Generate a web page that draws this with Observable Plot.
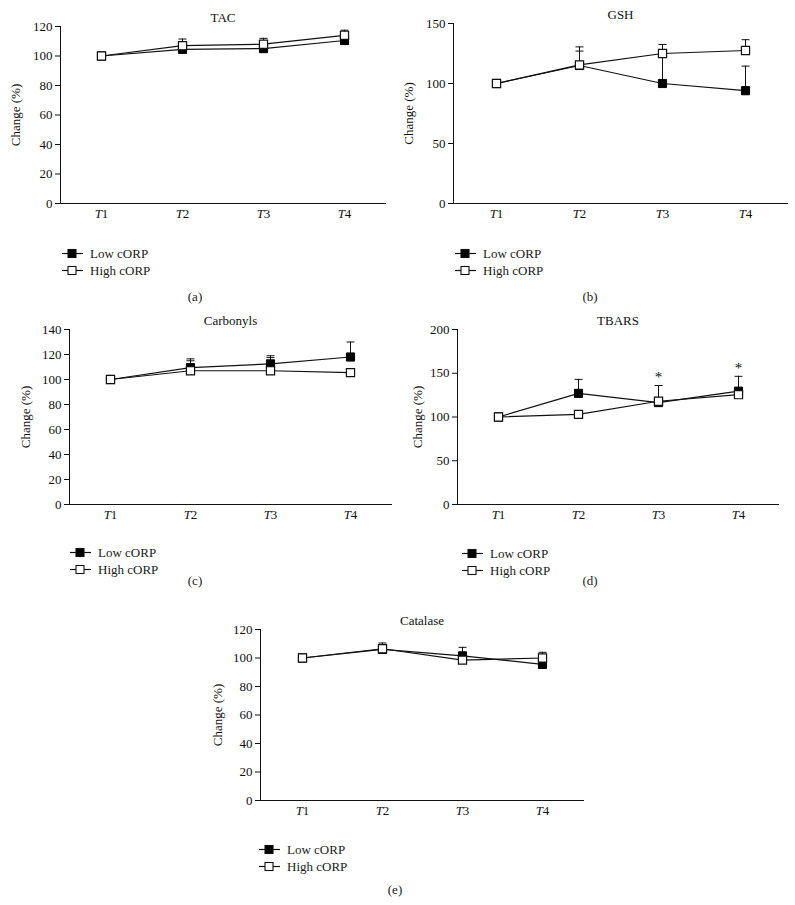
<!DOCTYPE html>
<html>
<head>
<meta charset="utf-8">
<script src="https://cdn.jsdelivr.net/npm/d3@7"></script>
<script src="https://cdn.jsdelivr.net/npm/@observablehq/plot@0.6"></script>
<style>
  body { margin: 0; background: #fff; }
  #root { position: relative; width: 795px; height: 905px; font-family: "Liberation Serif", "DejaVu Serif", serif; color: #1a1a1a; }
  .abs { position: absolute; }
  .cap { position: absolute; font-size: 13px; line-height: 1; transform: translate(-50%, -50%); white-space: nowrap; }
  .leg { position: absolute; font-size: 13px; line-height: 17px; }
  .leg div { display: flex; align-items: center; height: 17px; }
  .leg svg { margin-right: 7px; }
</style>
</head>
<body>
<div id="root"></div>
<script>
// ---------- data ----------
const times = ["T1", "T2", "T3", "T4"];
const seriesNames = ["Low cORP", "High cORP"];

// TAC
const tacLow = [100, 104.5, 105, 110.5];
const tacLowUp = [null, null, null, null];
const tacHigh = [100, 107, 108, 114];
const tacHighUp = [null, 111.5, 112, 117.5];
const tacTicks = [0, 20, 40, 60, 80, 100, 120];

// GSH
const gshLow = [100, 115, 100, 94];
const gshLowUp = [null, 130.5, 124, 114.5];
const gshHigh = [100, 115.5, 125, 127.5];
const gshHighUp = [null, 127, 132.5, 136.5];
const gshTicks = [0, 50, 100, 150];

// Carbonyls
const carLow = [100, 109.5, 112.5, 118];
const carLowUp = [null, 116.5, 119, 130];
const carHigh = [100, 107, 107, 105.5];
const carHighUp = [null, 115, 117.5, null];
const carTicks = [0, 20, 40, 60, 80, 100, 120, 140];

// TBARS
const tbLow = [100, 127, 116.5, 129.5];
const tbLowUp = [null, 143, null, 146.5];
const tbHigh = [100, 103, 118, 125.5];
const tbHighUp = [null, null, 136, null];
const tbTicks = [0, 50, 100, 150, 200];
const tbStars = ["T3", "T4"];

// Catalase
const catLow = [100, 106, 101.5, 95.5];
const catLowUp = [null, null, 107.5, null];
const catHigh = [100, 106.5, 98.5, 100];
const catHighUp = [null, 110.5, null, 104];
const catTicks = [0, 20, 40, 60, 80, 100, 120];

// ---------- drawing ----------
const root = document.getElementById("root");
const INK = "#111";
const capSymbol = {
  draw(ctx, size) {
    const r = Math.sqrt(size / Math.PI);
    ctx.moveTo(-r, 0);
    ctx.lineTo(r, 0);
  }
};

function italicT(svg) {
  const ns = "http://www.w3.org/2000/svg";
  d3.select(svg).selectAll("text").each(function () {
    const m = /^T(\d)$/.exec(this.textContent.trim());
    if (!m) return;
    while (this.firstChild) this.removeChild(this.firstChild);
    const t = document.createElementNS(ns, "tspan");
    t.setAttribute("font-style", "italic");
    t.textContent = "T";
    this.appendChild(t);
    this.appendChild(document.createTextNode(m[1]));
  });
}

function panel(cfg) {
  const rows = [];
  times.forEach((t, i) => {
    rows.push({t, g: "Low", v: cfg.low[i], up: cfg.lowUp[i]});
  });
  times.forEach((t, i) => {
    rows.push({t, g: "High", v: cfg.high[i], up: cfg.highUp[i]});
  });
  const errRows = rows.filter(d => d.up != null);
  const lowRows = rows.filter(d => d.g === "Low");
  const highRows = rows.filter(d => d.g === "High");
  const starRows = (cfg.stars || []).map(t => {
    const ups = rows.filter(d => d.t === t).map(d => d.up ?? d.v);
    return {t, y: Math.max(...ups)};
  });
  const ymax = cfg.ticks[cfg.ticks.length - 1];

  const svg = Plot.plot({
    width: cfg.width,
    height: cfg.height,
    marginLeft: cfg.ml,
    marginRight: cfg.mr,
    marginTop: cfg.mt,
    marginBottom: cfg.mb,
    style: {fontFamily: '"Liberation Serif", "DejaVu Serif", serif', fontSize: "13px", color: INK, background: "transparent", overflow: "visible"},
    x: {type: "point", domain: times, padding: 0.5, label: null, tickSize: 0, tickPadding: 5, line: true},
    y: {domain: [0, ymax], ticks: cfg.ticks, tickSize: 5, tickPadding: 3, line: true,
        label: "Change (%)", labelArrow: "none", labelAnchor: "center", labelOffset: cfg.labelOffset, tickFormat: d => String(d)},
    marks: [
      Plot.ruleX(errRows, {x: "t", y1: "v", y2: "up", stroke: INK, strokeWidth: 1}),
      Plot.dot(errRows, {x: "t", y: "up", symbol: capSymbol, r: 4, stroke: INK, strokeWidth: 1}),
      Plot.line(rows, {x: "t", y: "v", z: "g", stroke: INK, strokeWidth: 1.2}),
      Plot.dot(lowRows, {x: "t", y: "v", symbol: "square", r: 4.6, fill: "#000", stroke: "#000", strokeWidth: 1}),
      Plot.dot(highRows, {x: "t", y: "v", symbol: "square", r: 4.6, fill: "#fff", stroke: INK, strokeWidth: 1.2}),
      Plot.text(starRows, {x: "t", y: "y", text: () => "*", dy: -8, fontSize: 15, fill: INK}),
      Plot.text([cfg.title], {frameAnchor: "top", lineAnchor: "middle", dy: -9, fontSize: 13, fill: INK})
    ]
  });
  italicT(svg);
  const wrap = document.createElement("div");
  wrap.className = "abs";
  wrap.style.left = cfg.left + "px";
  wrap.style.top = cfg.top + "px";
  wrap.appendChild(svg);
  root.appendChild(wrap);

  // legend
  const leg = document.createElement("div");
  leg.className = "leg";
  leg.style.left = cfg.legX + "px";
  leg.style.top = (cfg.legY - 8) + "px";
  seriesNames.forEach((name, i) => {
    const row = document.createElement("div");
    const fill = i === 0 ? "#000" : "#fff";
    row.innerHTML = `<svg width="21" height="11"><line x1="0" y1="5.5" x2="21" y2="5.5" stroke="${INK}" stroke-width="1.2"/><rect x="6" y="1.5" width="8" height="8" fill="${fill}" stroke="${INK}" stroke-width="1.1"/></svg><span>${name}</span>`;
    leg.appendChild(row);
  });
  root.appendChild(leg);

  const cap = document.createElement("div");
  cap.className = "cap";
  cap.style.left = cfg.capX + "px";
  cap.style.top = cfg.capY + "px";
  cap.textContent = cfg.caption;
  root.appendChild(cap);
}

panel({title: "TAC", low: tacLow, lowUp: tacLowUp, high: tacHigh, highUp: tacHighUp, ticks: tacTicks,
  left: 0, top: 0, width: 390, height: 225, ml: 60, mr: 5, mt: 26, mb: 22, labelOffset: 50,
  legX: 62, legY: 253, caption: "(a)", capX: 195, capY: 296});

panel({title: "GSH", low: gshLow, lowUp: gshLowUp, high: gshHigh, highUp: gshHighUp, ticks: gshTicks,
  left: 395, top: 0, width: 400, height: 225, ml: 58, mr: 8, mt: 23, mb: 22, labelOffset: 50,
  legX: 455, legY: 253, caption: "(b)", capX: 590, capY: 296});

panel({title: "Carbonyls", low: carLow, lowUp: carLowUp, high: carHigh, highUp: carHighUp, ticks: carTicks,
  left: 0, top: 305, width: 395, height: 220, ml: 69, mr: 4, mt: 24, mb: 21, labelOffset: 49,
  legX: 70, legY: 552, caption: "(c)", capX: 195, capY: 580});

panel({title: "TBARS", low: tbLow, lowUp: tbLowUp, high: tbHigh, highUp: tbHighUp, ticks: tbTicks, stars: tbStars,
  left: 395, top: 305, width: 400, height: 220, ml: 62, mr: 17, mt: 24, mb: 21, labelOffset: 45,
  legX: 462, legY: 553, caption: "(d)", capX: 590, capY: 580});

panel({title: "Catalase", low: catLow, lowUp: catLowUp, high: catHigh, highUp: catHighUp, ticks: catTicks,
  left: 200, top: 600, width: 400, height: 222, ml: 60, mr: 17, mt: 29, mb: 22, labelOffset: 48,
  legX: 259, legY: 849, caption: "(e)", capX: 395, capY: 889});
</script>
</body>
</html>
